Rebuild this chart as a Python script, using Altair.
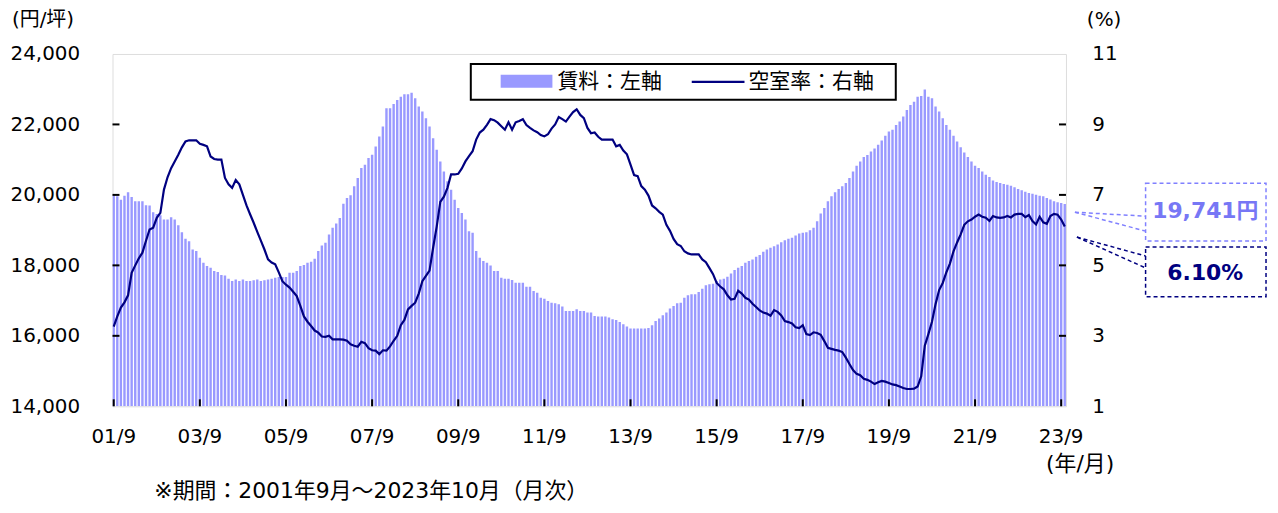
import altair as alt
import pandas as pd

# ---- data ----
RENT = [19988,19960,19865,19979,20075,19941,19818,19818,19818,19705,
        19696,19507,19460,19422,19300,19300,19366,19300,19140,18941,
        18753,18687,18451,18404,18215,18074,17980,17932,17838,17810,
        17725,17715,17621,17555,17602,17555,17602,17555,17555,17574,
        17602,17555,17574,17602,17621,17649,17668,17668,17668,17791,
        17791,17838,17980,18008,18074,18102,18187,18404,18564,18640,
        18875,19064,19187,19347,19752,19913,19988,
        20243,20478,20761,20856,21044,21139,21374,21657,21940,22459,
        22459,22581,22694,22789,22855,22855,22902,22742,22506,22364,
        22176,21940,21610,21280,20950,20667,20384,20148,19865,19630,
        19488,19300,18970,18922,18404,18215,18121,18074,17999,17838,
        17838,17649,17621,17621,17583,17508,17508,17508,17395,17395,
        17272,17225,17084,17055,16989,16942,16923,16895,16829,16706,
        16706,16706,16754,16706,16706,16659,16659,
        16565,16546,16546,16546,16518,16471,16452,16395,16329,16263,
        16207,16207,16207,16207,16207,16225,16301,16423,16490,16584,
        16659,16772,16848,16923,16942,17084,17150,17178,17178,17244,
        17338,17433,17461,17480,17555,17602,17621,17678,17772,17866,
        17932,17980,18074,18121,18168,18244,18291,18385,18451,18498,
        18545,18592,18658,18715,18753,18781,18847,18904,18922,18941,
        18998,19064,19253,19469,19630,19818,19960,
        20073,20167,20243,20337,20478,20667,20827,20950,21073,21130,
        21233,21318,21422,21544,21676,21799,21846,21987,22082,22223,
        22412,22553,22647,22789,22807,22990,22789,22742,22506,22364,
        22176,21987,21846,21676,21516,21355,21205,21073,20950,20827,
        20761,20667,20573,20507,20412,20365,20337,20309,20290,20262,
        20214,20167,20130,20092,20054,20035,20007,19979,19960,19913,
        19866,19818,19790,19771,19741]

VAC = [3.26,3.55,3.80,3.95,4.15,4.79,5.00,5.20,5.36,5.70,
       6.02,6.07,6.35,6.49,7.15,7.50,7.76,7.95,8.14,8.35,
       8.52,8.55,8.55,8.55,8.45,8.42,8.38,8.09,8.02,8.00,
       8.00,7.48,7.30,7.20,7.42,7.30,7.00,6.70,6.45,6.21,
       5.95,5.70,5.45,5.17,5.08,5.03,4.80,4.55,4.45,4.37,
       4.25,4.13,3.85,3.55,3.40,3.28,3.15,3.09,2.98,2.97,
       3.00,2.90,2.90,2.90,2.89,2.86,2.76,2.72,2.69,2.83,
       2.79,2.65,2.59,2.58,2.48,2.59,2.58,2.70,2.86,3.00,
       3.30,3.45,3.75,3.85,3.94,4.20,4.55,4.70,4.85,5.50,
       6.10,6.80,6.95,7.20,7.58,7.58,7.60,7.75,7.95,8.10,
       8.24,8.57,8.77,8.85,8.99,9.15,9.12,9.05,8.95,8.85,
       9.06,8.85,9.06,9.10,9.15,8.98,8.90,8.83,8.78,8.70,
       8.66,8.72,8.88,9.00,9.21,9.15,9.08,9.22,9.35,9.43,
       9.27,9.18,8.90,8.75,8.77,8.65,8.57,8.57,8.57,8.57,
       8.38,8.42,8.26,8.15,7.86,7.56,7.53,7.25,7.15,6.98,
       6.70,6.62,6.52,6.44,6.15,5.98,5.75,5.60,5.55,5.40,
       5.34,5.31,5.31,5.31,5.17,5.09,4.92,4.75,4.50,4.40,
       4.32,4.15,4.03,4.05,4.28,4.20,4.08,4.03,3.91,3.82,
       3.72,3.66,3.63,3.57,3.73,3.68,3.58,3.42,3.39,3.35,
       3.24,3.22,3.30,3.05,3.02,3.10,3.08,3.03,2.85,2.66,
       2.63,2.60,2.58,2.54,2.38,2.20,2.03,1.92,1.88,1.78,
       1.75,1.70,1.63,1.68,1.72,1.70,1.66,1.62,1.60,1.56,
       1.52,1.49,1.49,1.50,1.56,1.85,2.72,3.05,3.40,3.90,
       4.30,4.50,4.80,5.05,5.40,5.65,5.88,6.15,6.25,6.30,
       6.38,6.44,6.38,6.35,6.26,6.40,6.36,6.35,6.36,6.40,
       6.36,6.44,6.46,6.46,6.37,6.43,6.26,6.16,6.38,6.22,
       6.18,6.40,6.46,6.44,6.30,6.10]

X_TICKS = ["01/9", "03/9", "05/9", "07/9", "09/9", "11/9",
           "13/9", "15/9", "17/9", "19/9", "21/9", "23/9"]
LEFT_TICKS = [14000, 16000, 18000, 20000, 22000, 24000]
RIGHT_TICKS = [1, 3, 5, 7, 9, 11]

# month categories 01/9 ... 23/10
MONTHS = []
for k in range(len(RENT)):
    yy = 2001 + (8 + k) // 12
    mm = (8 + k) % 12 + 1
    MONTHS.append(f"{yy % 100:02d}/{mm}")

df = pd.DataFrame({"m": MONTHS, "i": list(range(len(MONTHS))), "rent": RENT, "vac": VAC})

# ---- style ----
W, H = 958, 354
BAR = "#9999FF"
NAVY = "#000080"
LIGHT = "#7777F5"
NUMFONT = "DejaVu Sans"
JPFONT = "Noto Sans CJK JP"
MIXFONT = "DejaVu Sans, Noto Sans CJK JP"

X = alt.X("m:O", sort=MONTHS, title=None,
          scale=alt.Scale(paddingInner=0.33, paddingOuter=0.0),
          axis=alt.Axis(values=X_TICKS, labelAngle=0, ticks=False, domain=False, grid=False,
                        labelPadding=20, labelFont=NUMFONT, labelFontSize=20,
                        labelColor="#000"))
Y_L = alt.Y("rent:Q", title=None, scale=alt.Scale(domain=[14000, 24000], zero=False, nice=False),
            axis=alt.Axis(orient="left", values=LEFT_TICKS,
                          labelExpr="format(datum.value, ',.0f')",
                          ticks=False, domain=False,
                          grid=False, labelPadding=33, labelFont=NUMFONT, labelFontSize=20,
                          labelColor="#000"))
Y_R = alt.Y("vac:Q", title=None, scale=alt.Scale(domain=[1, 11], zero=False, nice=False),
            axis=alt.Axis(orient="right", values=RIGHT_TICKS, ticks=False, domain=False,
                          grid=False, labelPadding=26, labelFont=NUMFONT, labelFontSize=20,
                          labelColor="#000"))

bars = alt.Chart(df).mark_bar(color=BAR, clip=True).encode(x=X, y=Y_L, y2=alt.datum(14000))
lt = alt.Chart(pd.DataFrame({"rent": LEFT_TICKS[1:-1]})).mark_rule(color="black", strokeWidth=2).encode(
    y=Y_L, x=alt.value(0), x2=alt.value(7))
left = alt.layer(bars, lt)

line = alt.Chart(df).mark_line(color=NAVY, strokeWidth=2.2).encode(x=X, y=Y_R, order="i:Q")
rt = alt.Chart(pd.DataFrame({"vac": RIGHT_TICKS[1:-1]})).mark_rule(color="black", strokeWidth=2).encode(
    y=Y_R, x=alt.value(W - 7), x2=alt.value(W))
right = alt.layer(line, rt)

xt = alt.Chart(pd.DataFrame({"m": X_TICKS})).mark_rule(color="black", strokeWidth=2).encode(
    x=X, y=alt.value(H - 7), y2=alt.value(H))

# ---- legend ----
one = pd.DataFrame({"a": [0]})
leg_box = alt.Chart(one).mark_rect(fill="white", stroke="black", strokeWidth=2).encode(
    x=alt.value(360), x2=alt.value(787), y=alt.value(10), y2=alt.value(46))
leg_sw = alt.Chart(one).mark_rect(color=BAR).encode(
    x=alt.value(390), x2=alt.value(442), y=alt.value(21), y2=alt.value(34))
leg_ln = alt.Chart(one).mark_rule(color=NAVY, strokeWidth=2.2).encode(
    x=alt.value(582), x2=alt.value(635), y=alt.value(28))


def txt(s, x, y, align="left", font=JPFONT, size=20, color="#000", weight="normal"):
    return alt.Chart(pd.DataFrame({"t": [s]})).mark_text(
        font=font, fontSize=size, align=align, baseline="middle", color=color, fontWeight=weight).encode(
        text="t:N", x=alt.value(x), y=alt.value(y))


leg_t1 = txt("賃料：左軸", 447, 28, size=21)
leg_t2 = txt("空室率：右軸", 639, 28, size=21)

# ---- texts outside plot ----
t_left = txt("(円/坪)", -101, -34, font=MIXFONT, size=20)
t_right = txt("(%)", 979, -34, font=NUMFONT, size=20)
t_xunit = txt("(年/月)", 938, 412, font=MIXFONT, size=22)
t_note = txt("※期間：2001年9月～2023年10月（月次）", 42, 439, font=MIXFONT, size=22)

# ---- annotation boxes ----
box1 = alt.Chart(one).mark_rect(fillOpacity=0, stroke="#8080FF", strokeWidth=1.5, strokeDash=[4, 3]).encode(
    x=alt.value(1038), x2=alt.value(1159), y=alt.value(130), y2=alt.value(188))
box2 = alt.Chart(one).mark_rect(fillOpacity=0, stroke=NAVY, strokeWidth=1.5, strokeDash=[4, 3]).encode(
    x=alt.value(1038), x2=alt.value(1159), y=alt.value(194), y2=alt.value(244))
l1a = alt.Chart(one).mark_rule(stroke="#8080FF", strokeWidth=1.5, strokeDash=[4, 3]).encode(
    x=alt.value(967), y=alt.value(159), x2=alt.value(1038), y2=alt.value(163))
l1b = alt.Chart(one).mark_rule(stroke="#8080FF", strokeWidth=1.5, strokeDash=[4, 3]).encode(
    x=alt.value(967), y=alt.value(159), x2=alt.value(1038), y2=alt.value(178))
l2a = alt.Chart(one).mark_rule(stroke=NAVY, strokeWidth=1.5, strokeDash=[4, 3]).encode(
    x=alt.value(969), y=alt.value(184), x2=alt.value(1038), y2=alt.value(203))
l2b = alt.Chart(one).mark_rule(stroke=NAVY, strokeWidth=1.5, strokeDash=[4, 3]).encode(
    x=alt.value(969), y=alt.value(184), x2=alt.value(1038), y2=alt.value(215))
a1 = txt(f"{RENT[-1]:,}円", 1098, 158, align="center", font=MIXFONT, size=22, color=LIGHT, weight="bold")
a2 = txt(f"{VAC[-1]:.2f}%", 1098, 220, align="center", font=NUMFONT, size=22, color=NAVY, weight="bold")

chart = alt.layer(
    left, right, xt,
    leg_box, leg_sw, leg_ln, leg_t1, leg_t2,
    t_left, t_right, t_xunit, t_note,
    l1a, l1b, l2a, l2b, box1, box2, a1, a2,
).resolve_scale(y="independent").properties(
    width=W, height=H,
    autosize=alt.AutoSizeParams(type="none"),
    padding={"left": 105, "top": 45, "right": 205, "bottom": 98},
).configure_view(stroke="black", strokeWidth=2).configure(background="white")

chart.save("out.html", embed_options={"renderer": "svg", "actions": False})
